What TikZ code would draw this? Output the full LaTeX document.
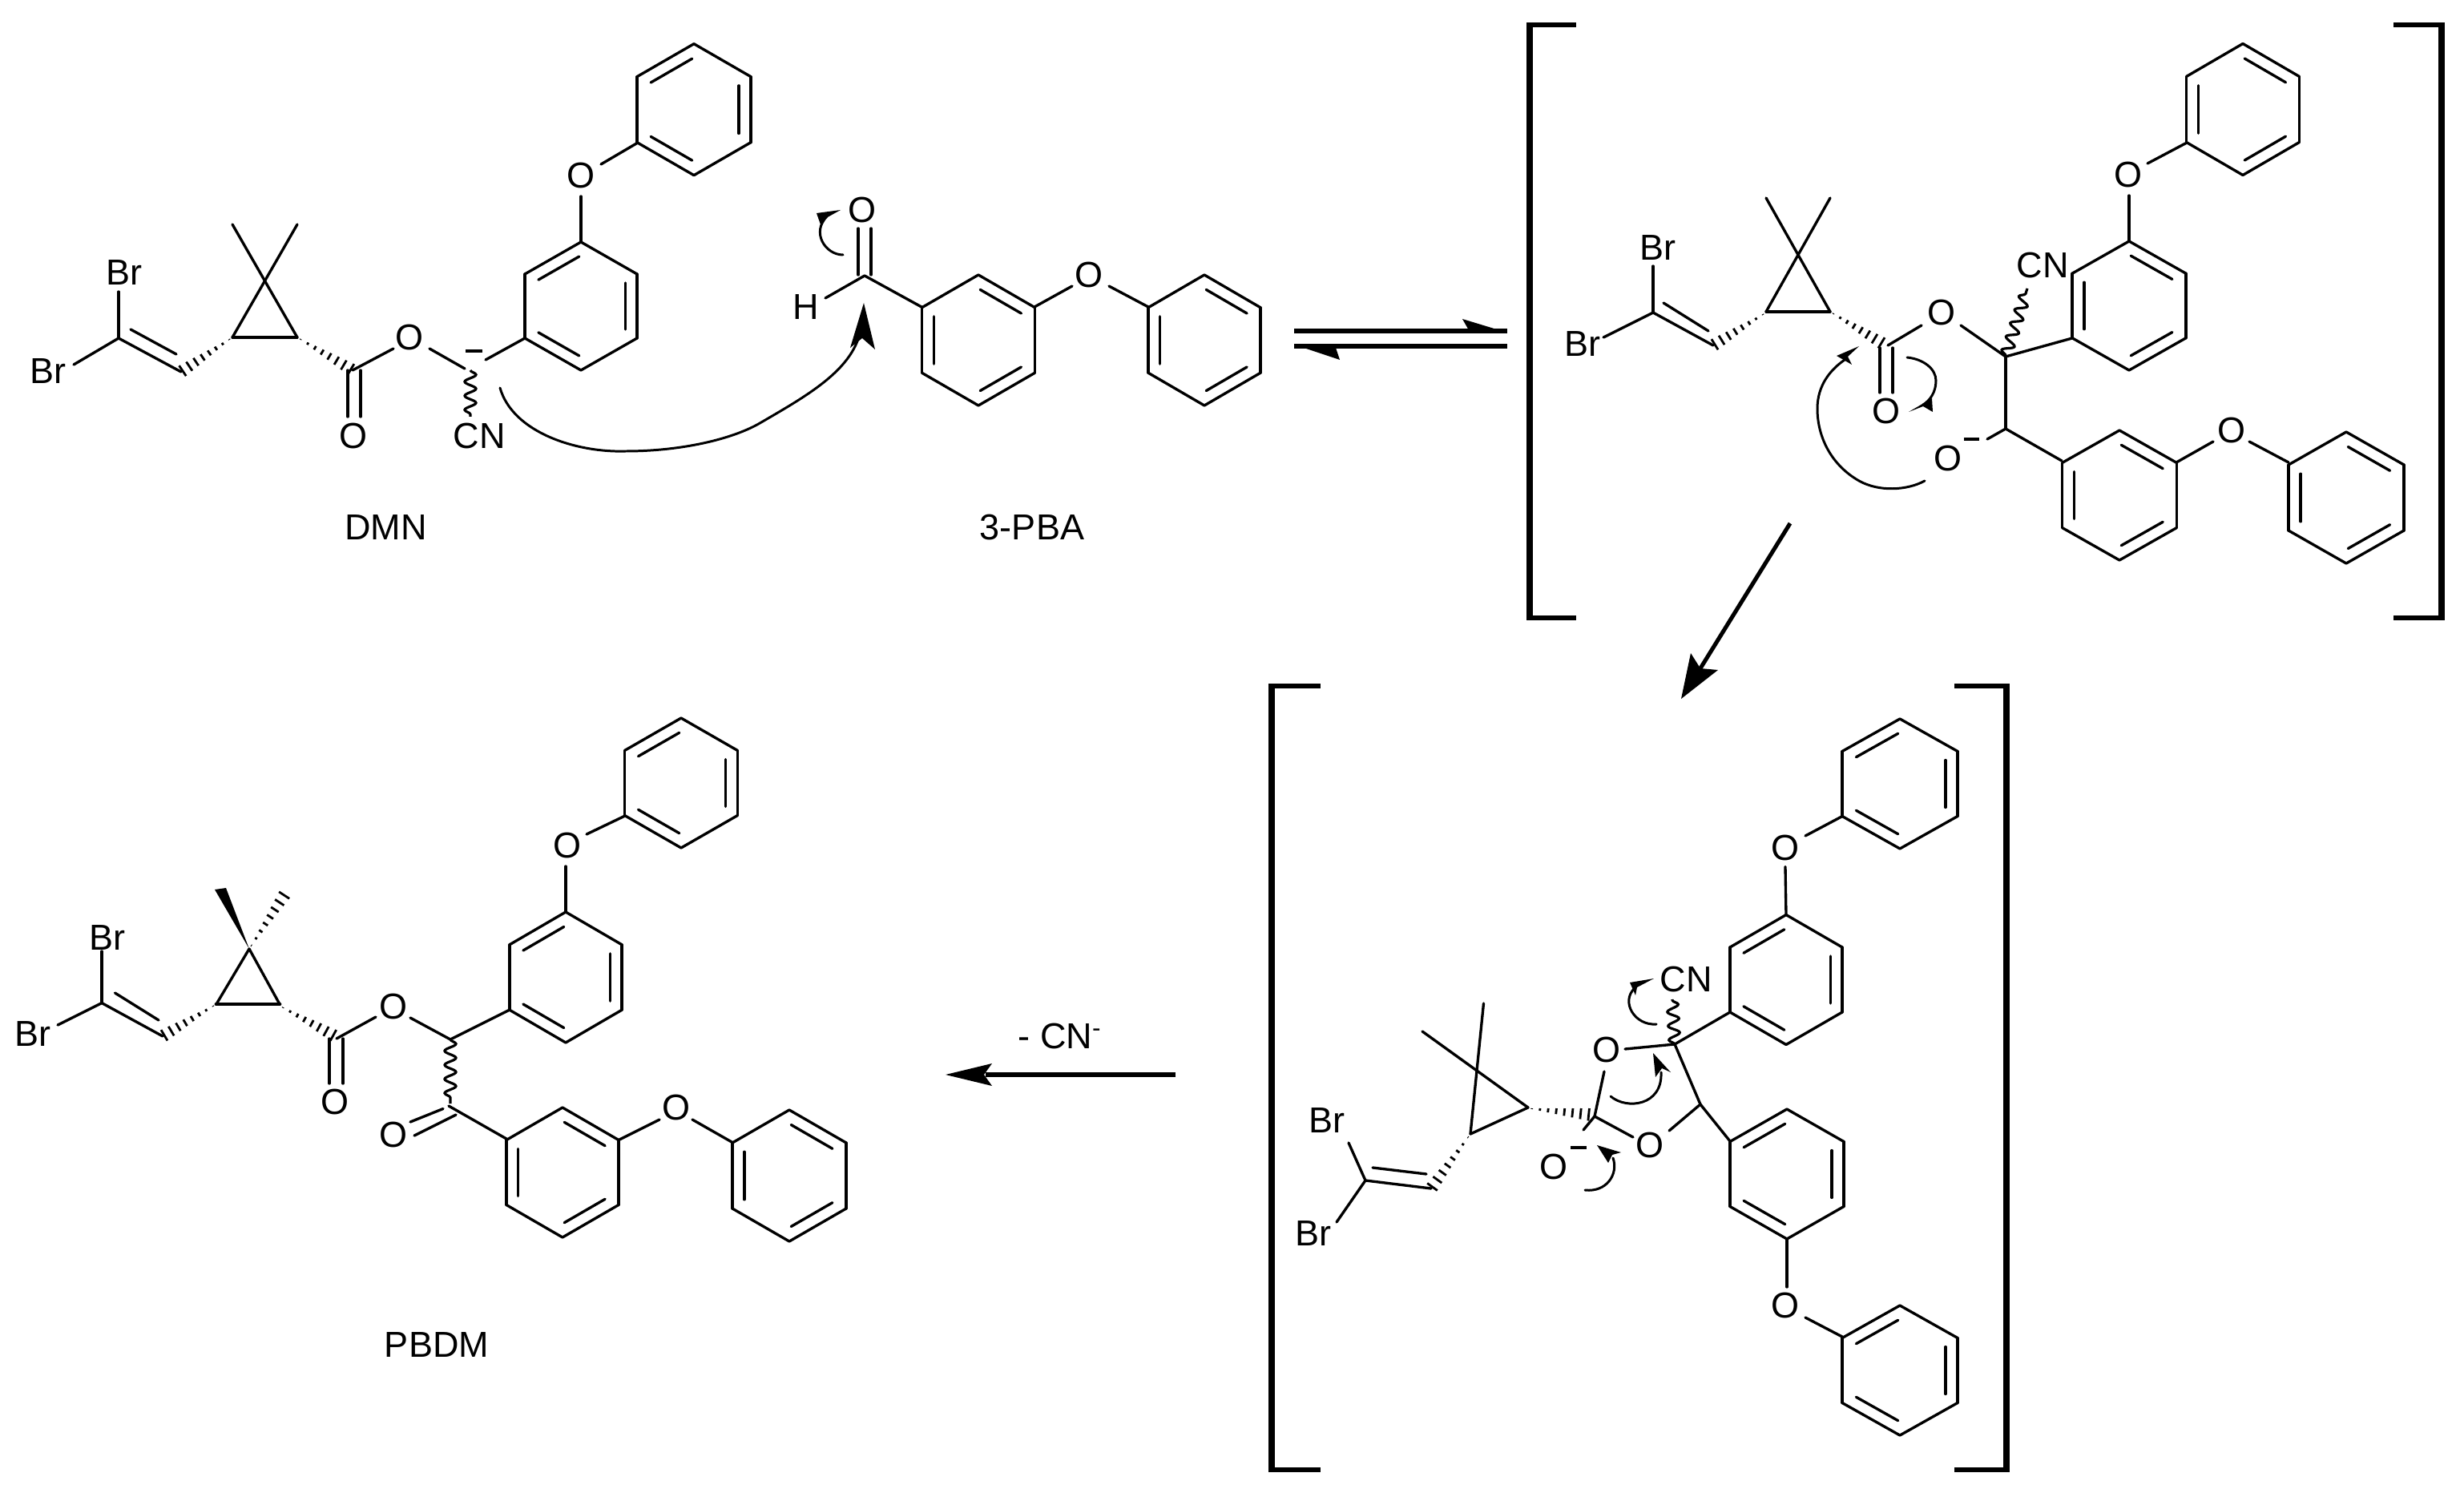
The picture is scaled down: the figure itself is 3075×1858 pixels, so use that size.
\documentclass[tikz,border=0pt]{standalone}
\usepackage{fontspec}
\setmainfont{Liberation Sans}
\usetikzlibrary{decorations.pathmorphing}
\tikzset{
 bond/.style={line width=0.95pt,line cap=round,line join=round},
 curly/.style={line width=0.85pt,line cap=round},
 rxn/.style={line width=1.45pt},
 brk/.style={line width=2.4pt},
 brkarm/.style={line width=1.6pt},
 head/.style={fill=black,draw=none},
 wavyb/.style={line width=0.9pt,decorate,decoration={snake,segment length=5pt,amplitude=2pt}},
 atom/.style={inner sep=0pt,font=\fontsize{12.8}{15}\selectfont},
 minus/.style={line width=1.1pt},
}
% benzene ring: cx cy half-width half-height, list of double edges
\newcommand\benz[5]{%
 \foreach \k in {0,...,5}{%
  \draw[bond] ({#1+#3*cos(-90+60*\k)/0.866},{#2+#4*sin(-90+60*\k)}) -- ({#1+#3*cos(-30+60*\k)/0.866},{#2+#4*sin(-30+60*\k)});
 }%
 \foreach \k in {#5}{%
  \pgfmathsetmacro\ax{0.79*#3*cos(-90+60*\k)/0.866}\pgfmathsetmacro\ay{0.79*#4*sin(-90+60*\k)}%
  \pgfmathsetmacro\bx{0.79*#3*cos(-30+60*\k)/0.866}\pgfmathsetmacro\by{0.79*#4*sin(-30+60*\k)}%
  \draw[bond] ({#1+0.96*\ax+0.04*\bx},{#2+0.96*\ay+0.04*\by}) -- ({#1+0.04*\ax+0.96*\bx},{#2+0.04*\ay+0.96*\by});
 }%
}
% hashed bond, narrow end first
\newcommand\hashb[4]{%
 \pgfmathsetmacro\hdx{#3-#1}\pgfmathsetmacro\hdy{#4-#2}%
 \pgfmathsetmacro\hlen{veclen(\hdx,\hdy)}%
 \foreach \t in {0.06,0.19,0.32,0.45,0.58,0.71,0.84,0.97}{%
  \draw[line width=0.8pt] ({#1+\t*\hdx-\t*8*(-\hdy)/\hlen},{#2+\t*\hdy-\t*8*\hdx/\hlen}) -- ({#1+\t*\hdx+\t*8*(-\hdy)/\hlen},{#2+\t*\hdy+\t*8*\hdx/\hlen});
 }%
}
\begin{document}
\begin{tikzpicture}[x=0.01cm,y=-0.01cm]
\useasboundingbox (0,0) rectangle (3075,1858);

%%%%%%%% DMN
\benz{866}{136.7}{71}{82}{5,1,3}
\benz{725}{382}{70}{80}{5,1,3}
\node[atom] (dmnOa) at (725,219) {O};
\draw[bond] (750,205)--(795,178.6);
\draw[bond] (725,245)--(725,302);
\draw[bond] (290,280)--(371,421);
\draw[bond] (371,280)--(290,421);
\draw[bond] (290,421)--(371,421);
\hashb{290}{421}{226}{464}
\hashb{371}{421}{440}{462}
\draw[bond] (148,422)--(226,464);
\draw[bond] (163,411)--(220,442);
\draw[bond] (148,364)--(148,422);
\draw[bond] (92,455)--(148,422);
\node[atom] (dmnBra) at (155,340) {Br};
\node[atom] (dmnBrb) at (60,463) {Br};
\draw[bond] (434,462)--(434,520);
\draw[bond] (450,462)--(450,520);
\node[atom] (dmnOb) at (441,544) {O};
\node[atom] (dmnOc) at (511,421) {O};
\draw[bond] (440,462)--(491,435);
\draw[bond] (536,435)--(580,460);
\draw[wavyb] (587,462)--(587,520);
\node[atom] (dmnCN) at (598,544) {CN};
\draw[minus] (581,438)--(602,438);
\draw[bond] (606,449)--(655,422);
\node[atom] (dmnLabel) at (481.5,658.5) {DMN};

% big curved arrow
\draw[curly] (624,484) .. controls (640,540) and (720,565) .. (781,563) .. controls (850,563) and (915,548) .. (950,527) .. controls (1005,495) and (1058,465) .. (1072,420);
\fill[head] (1078,378)--(1092,436)--(1076,422)--(1061,434)--cycle;

%%%%%%%% 3-PBA
\benz{1221}{424.5}{70.5}{81.5}{0,2,4}
\benz{1503}{424.5}{70}{81.5}{0,2,4}
\node[atom] (pbaOa) at (1359,343) {O};
\draw[bond] (1291,383)--(1338,357);
\draw[bond] (1384,357)--(1433,383);
\draw[bond] (1079,344)--(1150,383);
\draw[bond] (1079,344)--(1030,372);
\node[atom] (pbaH) at (1006,383) {H};
\draw[bond] (1071,285)--(1071,343);
\draw[bond] (1087,285)--(1087,343);
\node[atom] (pbaOb) at (1076,262) {O};
\draw[curly] (1052,318) .. controls (1030,318) and (1012,290) .. (1032,270);
\fill[head] (1049,262)--(1019,266)--(1025,283)--(1031,272)--cycle;
\node[atom] (pbaLabel) at (1288,658) {3-PBA};

%%%%%%%% equilibrium arrows
\coordinate (eqaL) at (1615,413); \coordinate (eqaR) at (1881,413);
\coordinate (eqbL) at (1615,432); \coordinate (eqbR) at (1881,432);
\draw[rxn] (eqaL)--(eqaR);
\draw[rxn] (eqbL)--(eqbR);
\fill[head] (1881,415)--(1825,398)--(1833,412)--cycle;
\fill[head] (1615,430)--(1672,449)--(1667,434)--cycle;

%%%%%%%% bracket 1
\draw[brk] (1909,28)--(1909,774);
\draw[brkarm] (1905,31)--(1967,31);
\draw[brkarm] (1905,771)--(1967,771);
\draw[brk] (3047,28)--(3047,774);
\draw[brkarm] (2987,31)--(3051,31);
\draw[brkarm] (2987,771)--(3051,771);

%%%%%%%% intermediate 1
\benz{2799}{136.5}{70.5}{82}{0,2,4}
\benz{2657}{381.5}{71}{80.5}{0,2,4}
\benz{2645}{618}{71.5}{81}{0,2,4}
\benz{2928}{621}{72}{82}{0,2,4}
\node[atom] (iaOa) at (2656,218) {O};
\draw[bond] (2680,204)--(2728,178.6);
\draw[bond] (2657,244)--(2657,301);
\node[atom] (iaCN) at (2549,331) {CN};
\draw[wavyb] (2503,444)--(2530,360);
\draw[bond] (2503,445)--(2586,422);
\draw[bond] (2503,445)--(2503,535);
\draw[bond] (2503,535)--(2480,548);
\draw[minus] (2451,548)--(2470,548);
\node[atom] (iaOb) at (2431,572) {O};
\draw[bond] (2503,535)--(2573,575);
\node[atom] (iaOc) at (2785,537) {O};
\draw[bond] (2716,577)--(2762,551);
\draw[bond] (2807,551)--(2856,577);
\node[atom] (iaOd) at (2423,390) {O};
\draw[bond] (2356,431)--(2398,406);
\draw[bond] (2447,406)--(2503,445);
\draw[bond] (2346,434)--(2346,490);
\draw[bond] (2362,434)--(2362,490);
\node[atom] (iaOe) at (2354,513) {O};
\hashb{2284}{389}{2350}{429}
\draw[bond] (2204,389)--(2284,389);
\draw[bond] (2204,247)--(2284,389);
\draw[bond] (2284,247)--(2204,389);
\draw[bond] (2063,390)--(2138,431);
\draw[bond] (2076,378)--(2132,413);
\hashb{2204}{390}{2138}{431}
\draw[bond] (2063,332)--(2063,390);
\draw[bond] (2001,421)--(2063,390);
\node[atom] (iaBra) at (2069,309) {Br};
\node[atom] (iaBrb) at (1975,429) {Br};
\draw[curly] (2402,600) .. controls (2380,612) and (2345,614) .. (2320,600) .. controls (2285,580) and (2268,545) .. (2268,510) .. controls (2268,480) and (2285,460) .. (2305,447);
\fill[head] (2320,432)--(2292,444)--(2311,455)--(2306,445)--cycle;
\draw[curly] (2380,446) .. controls (2400,448) and (2416,460) .. (2416,475) .. controls (2416,490) and (2408,500) .. (2400,505);
\fill[head] (2382,514)--(2411,497)--(2412,514)--(2400,507)--cycle;

%%%%%%%% arrow down
\coordinate (dnA) at (2234,653); \coordinate (dnB) at (2122,834);
\draw[rxn] (dnA)--(dnB);
\fill[head] (2098,872)--(2144,836)--(2122,834)--(2110,815)--cycle;

%%%%%%%% bracket 2
\draw[brk] (1587,853)--(1587,1837);
\draw[brkarm] (1583,856)--(1648,856);
\draw[brkarm] (1583,1834)--(1648,1834);
\draw[brk] (2504,853)--(2504,1837);
\draw[brkarm] (2439,856)--(2508,856);
\draw[brkarm] (2439,1834)--(2508,1834);

%%%%%%%% intermediate 2
\benz{2371}{978}{72}{81}{5,1,3}
\benz{2229}{1222.5}{70}{81}{5,1,3}
\benz{2230}{1465}{71}{81}{5,1,3}
\benz{2371}{1710}{72}{81}{5,1,3}
\node[atom] (ibOa) at (2228,1057.5) {O};
\draw[bond] (2253,1043)--(2299,1018.6);
\draw[bond] (2228,1081.5)--(2229,1142);
\draw[bond] (2090,1303)--(2159,1263);
\node[atom] (ibOb) at (2005,1310) {O};
\draw[bond] (2028,1309)--(2090,1303);
\draw[wavyb] (2090,1303)--(2087,1247);
\node[atom] (ibCN) at (2104,1222) {CN};
\draw[bond] (2090,1303)--(2122,1378);
\draw[bond] (2122,1378)--(2159,1424);
\draw[bond] (2083,1411)--(2122,1378);
\node[atom] (ibOc) at (2059,1429) {O};
\draw[bond] (2002,1337)--(1990,1393);
\draw[bond] (1990,1393)--(2038,1419);
\draw[bond] (1990,1393)--(1976,1410);
\node[atom] (ibOd) at (1939,1456) {O};
\draw[minus] (1960,1432)--(1980,1432);
\hashb{1907}{1383}{1985}{1391}
\draw[curly] (2010,1368) .. controls (2030,1385) and (2075,1380) .. (2073,1338);
\fill[head] (2063,1314)--(2085,1338)--(2074,1333)--(2066,1344)--cycle;
\draw[curly] (1978,1485) .. controls (2005,1488) and (2020,1465) .. (2013,1445);
\fill[head] (1993,1429)--(2023,1438)--(2012,1441)--(2007,1451)--cycle;
\draw[curly] (2067,1278) .. controls (2040,1280) and (2022,1250) .. (2040,1233);
\fill[head] (2064,1221)--(2034,1226)--(2041,1242)--(2043,1232)--cycle;
% cyclopropane
\draw[bond] (1775,1287)--(1907,1382);
\draw[bond] (1851.5,1252)--(1835,1415);
\draw[bond] (1907,1382)--(1835,1415);
\hashb{1835}{1415}{1786}{1483}
\draw[bond] (1704,1473)--(1786,1483);
\draw[bond] (1713,1457)--(1780,1465);
\draw[bond] (1683,1426)--(1704,1473);
\draw[bond] (1668,1525)--(1704,1473);
\node[atom] (ibBra) at (1656,1398) {Br};
\node[atom] (ibBrb) at (1639,1539) {Br};
\node[atom] (ibOe) at (2228,1629) {O};
\draw[bond] (2230,1546.5)--(2230,1606);
\draw[bond] (2253,1644)--(2299,1668);

%%%%%%%% arrow left
\coordinate (ltA) at (1467,1341); \coordinate (ltB) at (1230,1341);
\draw[rxn] (ltA)--(ltB);
\fill[head] (1180,1341)--(1238,1327)--(1228,1341)--(1238,1355)--cycle;
\node[atom] (cnLoss) at (1323,1293) {- CN\textsuperscript{-}};

%%%%%%%% PBDM
\benz{850}{977}{70.5}{81}{5,1,3}
\benz{706}{1219.5}{70}{81.5}{5,1,3}
\benz{702}{1463}{70}{81}{0,2,4}
\benz{985}{1467}{71}{82}{0,2,4}
\node[atom] (pbOa) at (708,1055) {O};
\draw[bond] (732,1041)--(780,1018);
\draw[bond] (706,1081)--(706,1138);
\draw[bond] (562,1297)--(636,1260);
\node[atom] (pbOb) at (491,1256) {O};
\draw[bond] (512,1270)--(562,1297);
\draw[bond] (469,1269)--(420,1296);
\draw[bond] (411,1296)--(411,1352);
\draw[bond] (428,1296)--(428,1352);
\node[atom] (pbOc) at (418,1375) {O};
\hashb{349}{1255}{418}{1293}
\draw[bond] (311,1184)--(270,1253);
\draw[bond] (311,1184)--(349,1253);
\draw[bond,line width=1.4pt] (270,1253)--(349,1253);
\fill[head] (311,1184)--(268,1110)--(282,1108)--cycle;
\hashb{311}{1184}{356}{1115}
\draw[bond] (127,1251.5)--(203,1293);
\draw[bond] (143.5,1239)--(198,1273);
\hashb{270}{1253}{203}{1293}
\draw[bond] (127,1187)--(127,1251.5);
\draw[bond] (72,1279)--(127,1251.5);
\node[atom] (pbBra) at (134,1170) {Br};
\node[atom] (pbBrb) at (41,1290.5) {Br};
\draw[wavyb] (562,1297)--(562,1377);
\draw[bond] (553,1383.5)--(512,1400);
\draw[bond] (569,1391)--(517,1417);
\node[atom] (pbOd) at (491,1416) {O};
\draw[bond] (560,1380)--(632,1421);
\node[atom] (pbOe) at (844,1382) {O};
\draw[bond] (772,1422.6)--(823,1397);
\draw[bond] (864,1397)--(914,1425.5);
\node[atom] (pbLabel) at (545,1678) {PBDM};
\end{tikzpicture}
\end{document}
